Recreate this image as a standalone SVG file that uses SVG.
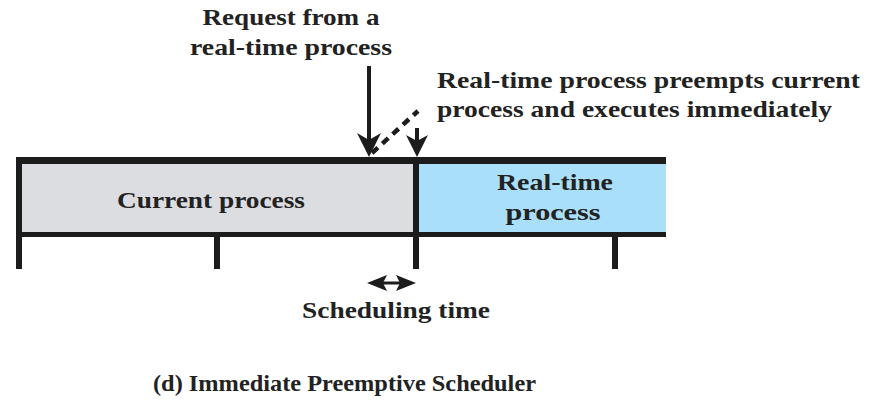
<svg xmlns="http://www.w3.org/2000/svg" width="872" height="412" viewBox="0 0 872 412">
<style>
text{font-family:"Liberation Serif","DejaVu Serif",serif;font-weight:bold;font-size:23px;fill:#222;}
.bar{fill:#1c1c1c;}
.ln{stroke:#1c1c1c;fill:none;}
.head{fill:#1c1c1c;}
</style>
<rect width="872" height="412" fill="#fff"/>
<g id="current-process">
<rect x="20" y="162" width="396" height="72" fill="#dcdde0"/>
<text x="211" y="208" text-anchor="middle" textLength="188" lengthAdjust="spacingAndGlyphs">Current process</text>
</g>
<g id="realtime-process">
<rect x="416" y="162" width="250" height="72" fill="#a9dff8"/>
<text x="555" y="190" text-anchor="middle" textLength="116" lengthAdjust="spacingAndGlyphs">Real-time</text>
<text x="553" y="220" text-anchor="middle" textLength="95" lengthAdjust="spacingAndGlyphs">process</text>
</g>
<g id="timeline">
<rect class="bar" x="16" y="157" width="650" height="7"/>
<rect class="bar" x="16" y="232" width="650" height="5"/>
<rect class="bar" x="16" y="157" width="6" height="112"/>
<rect class="bar" x="214" y="232" width="6" height="37"/>
<rect class="bar" x="413" y="157" width="6" height="112"/>
<rect class="bar" x="612" y="232" width="6" height="37"/>
</g>
<g id="connectors">
<line class="ln" x1="369" y1="66" x2="369" y2="142" stroke-width="4"/>
<polygon class="head" points="357,133 369,157 381,133 369,140"/>
<polyline class="ln" points="372,153 418,111" stroke-width="4.5" stroke-dasharray="8,6"/>
<line class="ln" x1="417" y1="128" x2="417" y2="142" stroke-width="4"/>
<polygon class="head" points="406,135 417,157 428,135 417,141"/>
<line class="ln" x1="380" y1="283" x2="404" y2="283" stroke-width="3"/>
<polygon class="head" points="367,283 387,275 383,283 387,291"/>
<polygon class="head" points="416,283 396,275 400,283 396,291"/>
</g>
<g id="labels">
<text x="291" y="25" text-anchor="middle" textLength="177" lengthAdjust="spacingAndGlyphs">Request from a</text>
<text x="291" y="55" text-anchor="middle" textLength="202" lengthAdjust="spacingAndGlyphs">real-time process</text>
<text x="437" y="88" textLength="423" lengthAdjust="spacingAndGlyphs">Real-time process preempts current</text>
<text x="437" y="117" textLength="395" lengthAdjust="spacingAndGlyphs">process and executes immediately</text>
<text x="396" y="318" text-anchor="middle" textLength="188" lengthAdjust="spacingAndGlyphs">Scheduling time</text>
<text x="153" y="391" textLength="383" lengthAdjust="spacingAndGlyphs">(d) Immediate Preemptive Scheduler</text>
</g>
</svg>
